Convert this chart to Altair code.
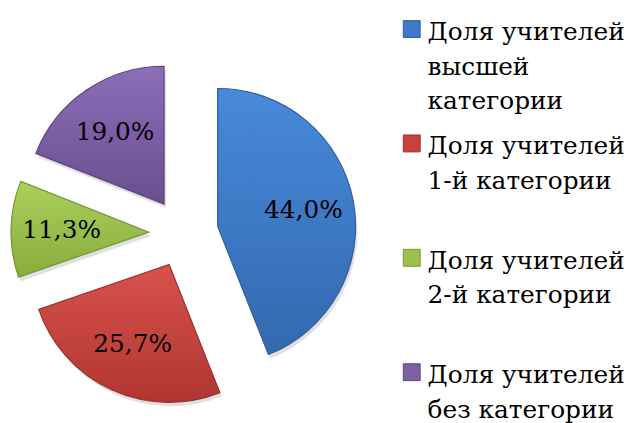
import altair as alt
import pandas as pd

# ---- data ----
categories = [
    "Доля учителей высшей категории",
    "Доля учителей 1-й категории",
    "Доля учителей 2-й категории",
    "Доля учителей без категории",
]
legend_labels = [
    "Доля учителей\nвысшей\nкатегории",
    "Доля учителей\n1-й категории",
    "Доля учителей\n2-й категории",
    "Доля учителей\nбез категории",
]
values = [44.0, 25.7, 11.3, 19.0]
order = [0, 1, 2, 3]

# ---- style / layout ----
colors = ["#3D7BC8", "#C9413D", "#9CC24B", "#7D5FA6"]
tops = ["#4889DA", "#D8524E", "#AAD05A", "#8C6DB8"]
bottoms = ["#3369AF", "#B03531", "#88AC3E", "#6A4F8F"]
strokes = ["#2F5F9C", "#9C2F2B", "#77973A", "#5E4680"]
FONT = "DejaVu Serif"
PIE_W, PIE_H = 395, 407
LEG_W = 222
CX, CY = 177, 225
R = 139
EXPLODE = 35
LABEL_R = 88

df = pd.DataFrame({"cat": categories, "legend": legend_labels,
                   "value": values, "order": order})

color_scale = alt.Scale(domain=categories, range=colors)
stroke_scale = alt.Scale(domain=categories, range=strokes)

base = (
    alt.Chart(df)
    .transform_window(cum="sum(value)", sort=[alt.SortField("order")], frame=[None, 0])
    .transform_joinaggregate(total="sum(value)")
    .transform_calculate(t0="2*PI*(datum.cum - datum.value)/datum.total")
    .transform_calculate(t1="2*PI*datum.cum/datum.total")
    .transform_calculate(mid="(datum.t0 + datum.t1)/2")
    .transform_calculate(ax=f"{CX} + {EXPLODE}*sin(datum.mid)")
    .transform_calculate(ay=f"{CY} - {EXPLODE}*cos(datum.mid)")
    .transform_calculate(lx=f"datum.ax + {LABEL_R}*sin(datum.mid)")
    .transform_calculate(ly=f"datum.ay - {LABEL_R}*cos(datum.mid)")
    .transform_calculate(txt="replace(format(datum.value, '.1f'), '.', ',') + '%'")
)

arc_enc = dict(
    x=alt.X("ax:Q", scale=None),
    y=alt.Y("ay:Q", scale=None),
    theta=alt.Theta("t0:Q", scale=None, stack=None),
    theta2=alt.Theta2("t1:Q"),
)

shadow = base.mark_arc(radius=R, color="black", opacity=0.12,
                       xOffset=2, yOffset=4).encode(**arc_enc)

slice_layers = []
for cat, top, bot, stk in zip(categories, tops, bottoms, strokes):
    grad = alt.Gradient(gradient="linear",
                        stops=[alt.GradientStop(color=top, offset=0),
                               alt.GradientStop(color=bot, offset=1)],
                        x1=0, x2=0, y1=0, y2=1)
    slice_layers.append(
        base.transform_filter(alt.datum.cat == cat)
        .mark_arc(radius=R, fill=grad, stroke=stk, strokeWidth=1.2)
        .encode(**arc_enc)
    )

labels = base.mark_text(font=FONT, fontSize=25, align="center",
                        baseline="middle", color="black").encode(
    x=alt.X("lx:Q", scale=None),
    y=alt.Y("ly:Q", scale=None),
    text="txt:N",
)

pie = alt.layer(shadow, *slice_layers, labels).properties(width=PIE_W, height=PIE_H)

yscale = alt.Scale(type="point", domain=categories, padding=0.265)
leg_base = alt.Chart(df)
squares = leg_base.mark_square(size=290, opacity=1, yOffset=-11, strokeWidth=1).encode(
    x=alt.value(12),
    y=alt.Y("cat:N", scale=yscale, axis=None),
    color=alt.Color("cat:N", scale=color_scale, legend=None),
    stroke=alt.Stroke("cat:N", scale=stroke_scale, legend=None),
)
leg_text = leg_base.mark_text(font=FONT, fontSize=25, align="left",
                              baseline="alphabetic", lineBreak="\n",
                              lineHeight=35, color="black").encode(
    x=alt.value(28),
    y=alt.Y("cat:N", scale=yscale, axis=None),
    text="legend:N",
)
legend = alt.layer(squares, leg_text).properties(width=LEG_W, height=PIE_H)

chart = (
    alt.hconcat(pie, legend, spacing=0)
    .properties(padding=0)
    .configure_view(stroke=None)
    .configure_concat(spacing=0)
)

chart.save("out.html", embed_options={"renderer": "svg", "actions": False})
